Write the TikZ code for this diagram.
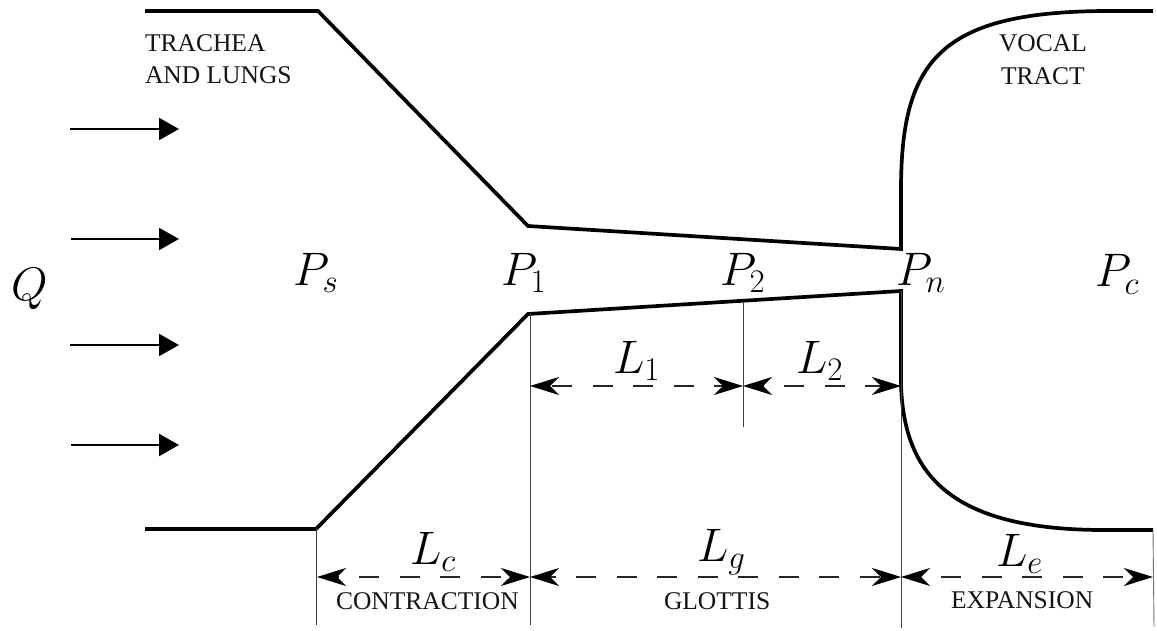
\documentclass[tikz,border=0pt]{standalone}
\usepackage{fix-cm}
\usepackage{fontspec}
\setmainfont{Liberation Serif}
\usetikzlibrary{arrows.meta}
\tikzset{
  wall/.style={line width=3.7pt,line join=miter},
  thin guide/.style={line width=0.9pt,draw=black!75},
  flow/.style={line width=2.3pt,-{Triangle[length=20pt,width=22pt]}},
  dimline/.style={line width=1.2pt,draw=black!85,dash pattern=on 20pt off 20.5pt,
    {Stealth[length=29pt,width=18pt,inset=9pt,black]}-{Stealth[length=29pt,width=18pt,inset=9pt,black]}},
  mathlab/.style={anchor=base west,inner sep=0pt,outer sep=0pt,font=\fontsize{47}{52}\selectfont},
  caplab/.style={anchor=base west,inner sep=0pt,outer sep=0pt,font=\fontsize{25.5}{30}\selectfont,text=black!92}
}
\begin{document}
\begin{tikzpicture}[x=1pt,y=-1pt]
\useasboundingbox (0,0) rectangle (1157,631);
\fill[white] (0,0) rectangle (1157,631);
% wall corners
\coordinate (ua) at (145,11);
\coordinate (ub) at (318,11);
\coordinate (uc) at (528,226);
\coordinate (ud) at (901,249);
\coordinate (ue) at (1153,11);
\coordinate (la) at (145,529);
\coordinate (lb) at (316,529);
\coordinate (lc) at (528,314);
\coordinate (ld) at (901,291);
\coordinate (le) at (1153,530);
\draw[wall] (ua) -- (ub) -- (uc) -- (ud) -- (901,190) .. controls (901,60) and (940,11) .. (1110,11) -- (ue);
\draw[wall] (la) -- (lb) -- (lc) -- (ld) -- (901,385) .. controls (904,470) and (945,529) .. (1100,530) -- (le);
% guides
\coordinate (g1t) at (316,529); \coordinate (g1b) at (316,625);
\coordinate (g2t) at (530,314); \coordinate (g2b) at (530,625);
\coordinate (g3t) at (743,302); \coordinate (g3b) at (743,427);
\coordinate (g4t) at (901,291); \coordinate (g4b) at (901,628);
\coordinate (g5t) at (1153,530); \coordinate (g5b) at (1154,627);
\draw[thin guide] (g1t) -- (g1b);
\draw[thin guide] (g2t) -- (g2b);
\draw[thin guide] (g3t) -- (g3b);
\draw[thin guide] (g4t) -- (g4b);
\draw[thin guide,draw=black!55] (g5t) -- (g5b);
% dimension ends
\coordinate (d1a) at (530,386); \coordinate (d1b) at (743,386); \coordinate (d1c) at (901,386);
\coordinate (d2a) at (317,577); \coordinate (d2b) at (530,577); \coordinate (d2c) at (901,577); \coordinate (d2d) at (1153,577);
\draw[dimline,dash phase=37.5pt] (d1a) -- (d1b);
\draw[dimline,dash phase=18.5pt] (d1b) -- (d1c);
\draw[dimline,dash phase=17.5pt] (d2a) -- (d2b);
\draw[dimline,dash phase=13.9pt] (d2b) -- (d2c);
\draw[dimline,dash phase=19.5pt] (d2c) -- (d2d);
% flow arrows
\coordinate (f1a) at (70,129); \coordinate (f1b) at (179,129);
\coordinate (f2a) at (71,239); \coordinate (f2b) at (179,239);
\coordinate (f3a) at (70,345); \coordinate (f3b) at (179,345);
\coordinate (f4a) at (71,445); \coordinate (f4b) at (179,445);
\draw[flow] (f1a) -- (f1b);
\draw[flow] (f2a) -- (f2b);
\draw[flow] (f3a) -- (f3b);
\draw[flow] (f4a) -- (f4b);
% math labels
\node[mathlab] (Q) at (11,300) {$Q$};
\node[mathlab] (Ps) at (293,285) {$P_s$};
\node[mathlab] (P1) at (501,285) {$P_1$};
\node[mathlab] (P2) at (720,285) {$P_2$};
\node[mathlab] (Pn) at (896,285) {$P_n$};
\node[mathlab] (Pc) at (1095,287) {$P_c$};
\node[mathlab] (L1) at (613,373) {$L_1$};
\node[mathlab] (L2) at (796,373) {$L_2$};
\node[mathlab] (Lc) at (410,564) {$L_c$};
\node[mathlab] (Lg) at (697,561) {$L_g$};
\node[mathlab] (Le) at (996,566) {$L_e$};
% captions
\node[caplab] (t1) at (145,52) {TRACHEA};
\node[caplab] (t2) at (145,84) {AND LUNGS};
\node[caplab] (v1) at (999,52) {VOCAL};
\node[caplab] (v2) at (1001,85) {TRACT};
\node[caplab] (c1) at (336,609) {CONTRACTION};
\node[caplab] (c2) at (664,609) {GLOTTIS};
\node[caplab] (c3) at (951,608) {EXPANSION};
\end{tikzpicture}
\end{document}
